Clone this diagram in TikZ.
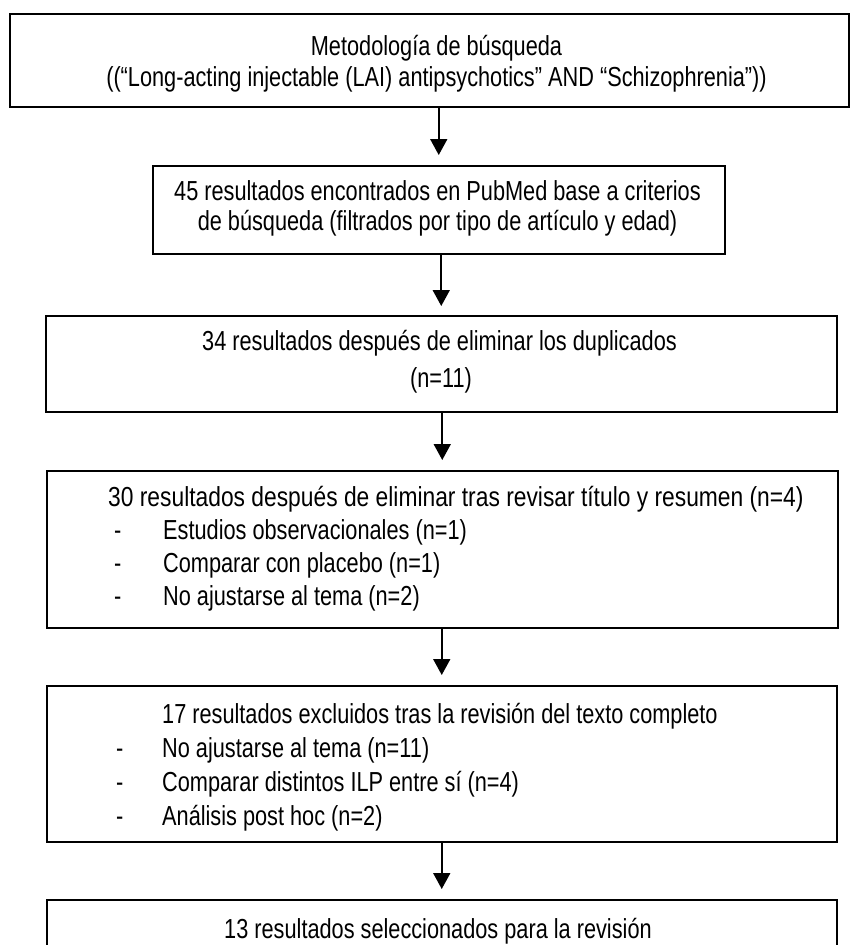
\documentclass[tikz,border=0pt]{standalone}
\usepackage{fontspec}
\setmainfont[FakeStretch=0.79]{Liberation Sans}
\usetikzlibrary{arrows.meta}
\begin{document}
\begin{tikzpicture}[x=1pt,y=-1pt,
  box/.style={draw=black, line width=1.5pt, inner sep=0pt, anchor=north west},
  txt/.style={inner sep=0pt, font=\fontsize{27.5}{30}\selectfont},
  arr/.style={-{Triangle[width=17pt,length=16pt]}, line width=1.8pt}]
\useasboundingbox (0,0) rectangle (850,945);
\clip (0,0) rectangle (850,945);
\fill[white] (0,0) rectangle (850,945);
% boxes
\node[box, minimum width=839pt, minimum height=93pt] (b1) at (9,13) {};
\node[box, minimum width=572pt, minimum height=88pt] (b2) at (152,165) {};
\node[box, minimum width=791pt, minimum height=96pt] (b3) at (45,315) {};
\node[box, minimum width=791pt, minimum height=157pt] (b4) at (46,470) {};
\node[box, minimum width=790pt, minimum height=156pt] (b5) at (46,685) {};
\node[box, minimum width=790pt, minimum height=90pt] (b6) at (46,899) {};
% texts
\node[txt, anchor=base] (t1a) at (436.5,55) {Metodología de búsqueda};
\node[txt, anchor=base] (t1b) at (436.5,86) {((“Long-acting injectable (LAI) antipsychotics” AND “Schizophrenia”))};
\node[txt, anchor=base] (t2a) at (437.5,200) {45 resultados encontrados en PubMed base a criterios};
\node[txt, anchor=base] (t2b) at (437.5,230) {de búsqueda (filtrados por tipo de artículo y edad)};
\node[txt, anchor=base] (t3a) at (439.5,350) {34 resultados después de eliminar los duplicados};
\node[txt, anchor=base] (t3b) at (441,387) {(n=11)};
\node[txt, anchor=base west] (t4a) at (108,506) {\scalebox{1.05}[1]{30 resultados después de eliminar tras revisar título y resumen (n=4)}};
\node[txt, anchor=base west] (d4a) at (114,539) {-};
\node[txt, anchor=base west] (t4b) at (163,539) {Estudios observacionales (n=1)};
\node[txt, anchor=base west] (d4b) at (114,572) {-};
\node[txt, anchor=base west] (t4c) at (163,572) {Comparar con placebo (n=1)};
\node[txt, anchor=base west] (d4c) at (114,605) {-};
\node[txt, anchor=base west] (t4d) at (163,605) {No ajustarse al tema (n=2)};
\node[txt, anchor=base west] (t5a) at (162,723) {17 resultados excluidos tras la revisión del texto completo};
\node[txt, anchor=base west] (d5a) at (116,757) {-};
\node[txt, anchor=base west] (t5b) at (162,757) {No ajustarse al tema (n=11)};
\node[txt, anchor=base west] (d5b) at (116,791) {-};
\node[txt, anchor=base west] (t5c) at (162,791) {Comparar distintos ILP entre sí (n=4)};
\node[txt, anchor=base west] (d5c) at (116,825) {-};
\node[txt, anchor=base west] (t5d) at (162,825) {Análisis post hoc (n=2)};
\node[txt, anchor=base] (t6) at (438,938) {13 resultados seleccionados para la revisión};
% arrows
\draw[arr] (b1.south -| b2.north) -- ([yshift=10pt]b2.north);
\draw[arr] (b2.south -| b3.north) -- ([yshift=9pt]b3.north);
\draw[arr] (b3.south -| b4.north) -- ([yshift=10pt]b4.north);
\draw[arr] (b4.south -| b5.north) -- ([yshift=10pt]b5.north);
\draw[arr] (b5.south -| b6.north) -- ([yshift=10pt]b6.north);
\end{tikzpicture}
\end{document}
